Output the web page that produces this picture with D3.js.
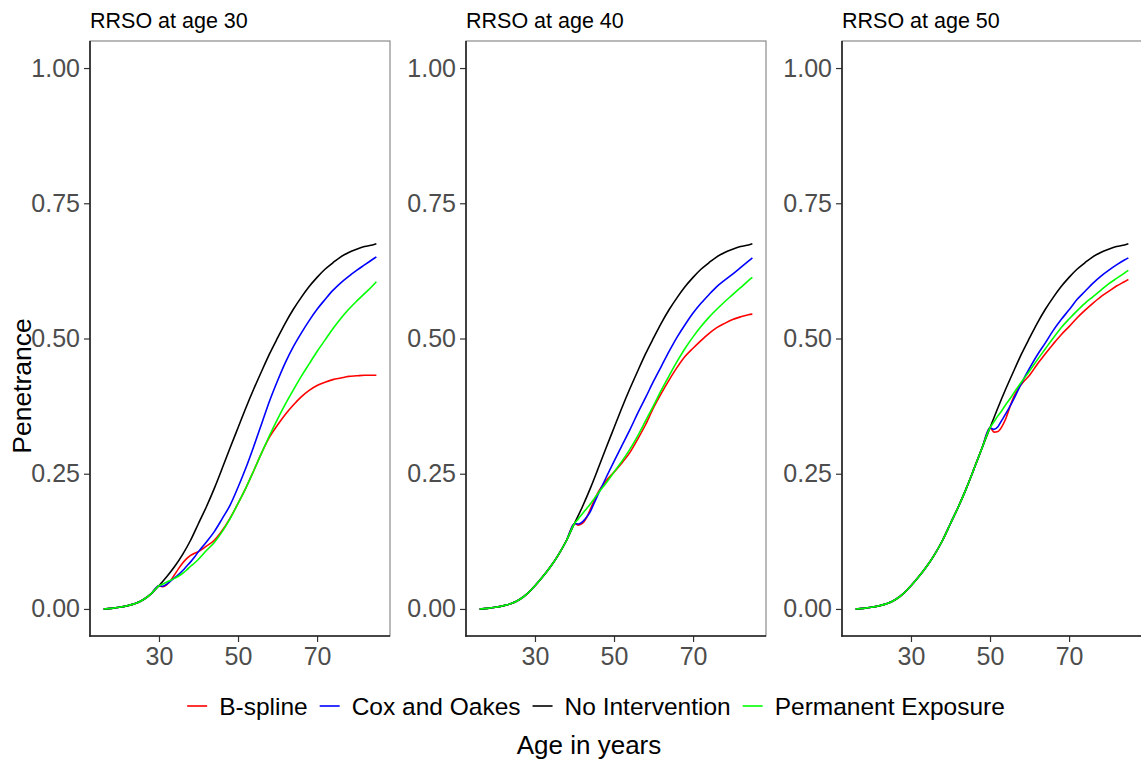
<!DOCTYPE html>
<html>
<head>
<meta charset="utf-8">
<script src="https://cdn.jsdelivr.net/npm/d3@7"></script>
<style>
  html, body { margin: 0; padding: 0; background: #fff; }
  svg { display: block; font-family: "Liberation Sans", Arial, Helvetica, sans-serif; }
</style>
</head>
<body>
<svg id="chart" width="1141" height="763"></svg>
<script>
// Penetrance curves with risk-reducing salpingo-oophorectomy (RRSO) at three ages.
const methods = ["B-spline", "Cox and Oakes", "No Intervention", "Permanent Exposure"];
const methodColors = ["#ff0000", "#0000ff", "#000000", "#00ff00"];

const panelTitles = ["RRSO at age 30", "RRSO at age 40", "RRSO at age 50"];
const rrsoAges = [30, 40, 50];

const yTicks = [0, 0.25, 0.5, 0.75, 1];
const xTicks = [30, 50, 70];

// No intervention penetrance (shared by all panels, and by every method before surgery)
const baseAges = [16, 18, 20, 22, 24, 26, 28, 30, 32, 34, 36, 38, 40, 42, 44, 46, 48, 50, 52, 54,
                  56, 58, 60, 62, 64, 66, 68, 70, 72, 74, 76, 78, 80, 82, 84, 85];
const noIntervention = [0.000, 0.001, 0.003, 0.006, 0.010, 0.017, 0.028, 0.043, 0.060, 0.079, 0.101, 0.127,
                        0.158, 0.189, 0.223, 0.260, 0.298, 0.335, 0.372, 0.407, 0.440, 0.472, 0.501, 0.529,
                        0.554, 0.576, 0.596, 0.613, 0.628, 0.640, 0.651, 0.659, 0.665, 0.670, 0.673, 0.675];

// RRSO at 30
const postAges30 = [30, 31, 32, 33, 34, 35, 36, 37, 38, 39, 40, 42, 44, 46, 48, 50, 52, 54, 56, 58,
                    60, 62, 64, 66, 68, 70, 72, 74, 76, 78, 80, 82, 84, 85];
const bspline30 = [0.043, 0.041, 0.045, 0.053, 0.064, 0.075, 0.085, 0.093, 0.099, 0.103, 0.106, 0.116,
                   0.127, 0.145, 0.168, 0.195, 0.224, 0.256, 0.289, 0.318, 0.340, 0.360, 0.377, 0.392,
                   0.404, 0.413, 0.419, 0.424, 0.427, 0.430, 0.431, 0.432, 0.432, 0.432];
const cox30 = [0.043, 0.042, 0.046, 0.052, 0.058, 0.064, 0.071, 0.079, 0.087, 0.096, 0.106, 0.124,
               0.143, 0.167, 0.192, 0.225, 0.261, 0.301, 0.343, 0.385, 0.422, 0.456, 0.485, 0.510,
               0.533, 0.554, 0.572, 0.589, 0.603, 0.615, 0.626, 0.636, 0.646, 0.651];
const perm30 = [0.043, 0.046, 0.050, 0.053, 0.057, 0.061, 0.066, 0.072, 0.079, 0.085, 0.092, 0.108,
                0.123, 0.143, 0.167, 0.195, 0.224, 0.256, 0.289, 0.321, 0.351, 0.379, 0.405, 0.430,
                0.453, 0.476, 0.497, 0.518, 0.537, 0.554, 0.569, 0.583, 0.597, 0.605];

// RRSO at 40
const postAges40 = [40, 41, 42, 43, 44, 45, 46, 48, 50, 52, 54, 56, 58, 60, 62, 64, 66, 68, 70, 72,
                    74, 76, 78, 80, 82, 84, 85];
const bspline40 = [0.158, 0.155, 0.158, 0.168, 0.184, 0.201, 0.216, 0.237, 0.253, 0.270, 0.289, 0.314,
                   0.341, 0.372, 0.399, 0.424, 0.447, 0.467, 0.482, 0.496, 0.509, 0.520, 0.528, 0.535,
                   0.540, 0.544, 0.545];
const cox40 = [0.158, 0.157, 0.161, 0.169, 0.180, 0.196, 0.212, 0.243, 0.273, 0.302, 0.331, 0.362,
               0.391, 0.421, 0.449, 0.477, 0.503, 0.526, 0.547, 0.565, 0.581, 0.596, 0.608, 0.619,
               0.631, 0.643, 0.649];
const perm40 = [0.158, 0.167, 0.176, 0.185, 0.194, 0.204, 0.214, 0.233, 0.253, 0.273, 0.295, 0.320,
                0.348, 0.376, 0.405, 0.432, 0.458, 0.482, 0.503, 0.522, 0.539, 0.554, 0.568, 0.581,
                0.594, 0.607, 0.613];

// RRSO at 50
const postAges50 = [50, 51, 52, 53, 54, 55, 56, 58, 60, 62, 64, 66, 68, 70, 72, 74, 76, 78, 80, 82,
                    84, 85];
const bspline50 = [0.335, 0.327, 0.328, 0.337, 0.352, 0.373, 0.392, 0.416, 0.432, 0.453, 0.472, 0.490,
                   0.507, 0.522, 0.538, 0.552, 0.565, 0.577, 0.587, 0.597, 0.605, 0.609];
const cox50 = [0.335, 0.332, 0.337, 0.349, 0.361, 0.374, 0.388, 0.418, 0.445, 0.470, 0.492, 0.515,
               0.535, 0.553, 0.572, 0.587, 0.602, 0.615, 0.626, 0.636, 0.645, 0.649];
const perm50 = [0.335, 0.346, 0.357, 0.367, 0.378, 0.388, 0.399, 0.420, 0.440, 0.461, 0.481, 0.501,
                0.520, 0.536, 0.551, 0.565, 0.577, 0.589, 0.601, 0.611, 0.621, 0.626];

const postAges = [postAges30, postAges40, postAges50];
const postValues = [
  [bspline30, cox30, perm30],
  [bspline40, cox40, perm40],
  [bspline50, cox50, perm50]
];

// ---- layout ----
const svg = d3.select("#chart");
const panelLefts = [90, 466, 842];
const panelWidth = 300;
const panelTop = 41, panelBottom = 636;

const y = d3.scaleLinear().domain([-0.05, 1.05]).range([panelBottom, panelTop]);

function seriesFor(panel, m) {
  const a0 = rrsoAges[panel];
  const base = baseAges.map((a, i) => [a, noIntervention[i]]);
  if (m === 2) return base;
  const k = m < 2 ? m : 2;
  const post = postAges[panel].map((a, i) => [a, postValues[panel][k][i]]);
  return base.filter(d => d[0] < a0).concat(post);
}

panelLefts.forEach((left, p) => {
  const x = d3.scaleLinear().domain([12.55, 88.45]).range([left, left + panelWidth]);
  const g = svg.append("g");

  // panel frame
  g.append("rect")
    .attr("x", left).attr("y", panelTop)
    .attr("width", panelWidth).attr("height", panelBottom - panelTop)
    .attr("fill", "none").attr("stroke", "#8a8a8a").attr("stroke-width", 1.2);

  // curves
  const line = d3.line().x(d => x(d[0])).y(d => y(d[1])).curve(d3.curveMonotoneX);
  methods.forEach((name, m) => {
    g.append("path")
      .datum(seriesFor(p, m))
      .attr("d", line)
      .attr("fill", "none")
      .attr("stroke", methodColors[m])
      .attr("stroke-width", 1.6);
  });

  // axes
  const yAxis = d3.axisLeft(y).tickValues(yTicks).tickFormat(d3.format(".2f")).tickSize(6).tickPadding(4);
  const xAxis = d3.axisBottom(x).tickValues(xTicks).tickSize(6).tickPadding(5);

  const ya = g.append("g").attr("transform", `translate(${left},0)`).call(yAxis);
  const xa = g.append("g").attr("transform", `translate(0,${panelBottom})`).call(xAxis);
  [ya, xa].forEach(a => {
    a.select(".domain").remove();
    a.selectAll(".tick line").attr("stroke", "#333").attr("stroke-width", 1.2);
    a.selectAll(".tick text").attr("fill", "#4d4d4d").style("font-size", "25px");
  });
  xa.selectAll(".tick text").attr("dy", "0.72em");

  // axis lines (left, bottom)
  g.append("line").attr("x1", left).attr("x2", left)
    .attr("y1", panelTop).attr("y2", panelBottom + 0.7)
    .attr("stroke", "#222").attr("stroke-width", 1.6);
  g.append("line").attr("x1", left - 0.7).attr("x2", left + panelWidth)
    .attr("y1", panelBottom).attr("y2", panelBottom)
    .attr("stroke", "#222").attr("stroke-width", 1.6);

  // panel title
  g.append("text").attr("x", left).attr("y", 28)
    .style("font-size", "21.5px").attr("fill", "#000")
    .text(panelTitles[p]);
});

// legend
const legend = svg.append("g");
let cursor = 0;
methods.forEach((name, m) => {
  const it = legend.append("g");
  it.append("line").attr("x1", 0).attr("x2", 20).attr("y1", 0).attr("y2", 0)
    .attr("stroke", methodColors[m]).attr("stroke-width", 1.6);
  const t = it.append("text").attr("x", 32).attr("y", 0).attr("dy", "0.35em")
    .style("font-size", "24.5px").attr("fill", "#000").text(name);
  const w = 32 + t.node().getComputedTextLength();
  it.attr("transform", `translate(${cursor},0)`);
  cursor += w + 12;
});
const legendWidth = cursor - 12;
legend.attr("transform", `translate(${596 - legendWidth / 2},706)`);

// figure-level axis titles
svg.append("text").attr("x", 589).attr("y", 754)
  .attr("text-anchor", "middle").style("font-size", "26px").attr("fill", "#000")
  .text("Age in years");
svg.append("text")
  .attr("transform", "translate(31,386) rotate(-90)")
  .attr("text-anchor", "middle").style("font-size", "26.5px").attr("fill", "#000")
  .text("Penetrance");
</script>
</body>
</html>
